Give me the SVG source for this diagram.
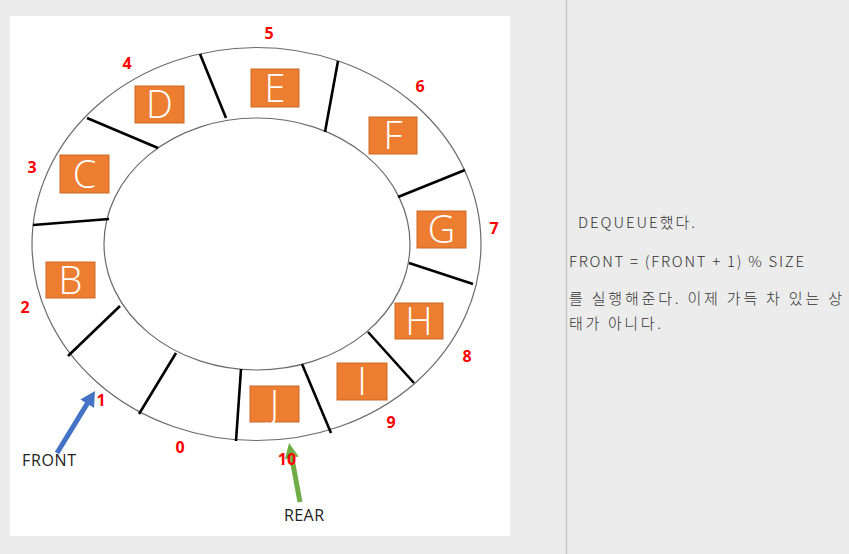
<svg xmlns="http://www.w3.org/2000/svg" width="849" height="554" viewBox="0 0 849 554">
<style>
.ring{fill:none;stroke:#6b6b6b;stroke-width:1.2}
.div{stroke:#000;stroke-width:2.6;stroke-linecap:butt}
.box{fill:#ED7D31;stroke:#C96A2A;stroke-width:1}
.let{font-family:"Open Sans","Noto Sans",sans-serif;font-weight:300;font-size:38px;fill:#fff;text-anchor:middle}
.num{font-family:"Open Sans","Liberation Sans",sans-serif;font-weight:bold;font-size:16px;fill:#ff0000;text-anchor:middle}
.lab{font-family:"Open Sans","Liberation Sans",sans-serif;font-size:16px;fill:#222}
.side{font-family:"Noto Sans CJK KR","Noto Sans",sans-serif;font-weight:300;font-size:15px;fill:#333}
</style>
<defs>
<marker id="hb" viewBox="0 -8 15 16" refX="1" refY="0" markerWidth="15" markerHeight="16" markerUnits="userSpaceOnUse" orient="auto"><path d="M0,-8 L15,0 L0,8 z" fill="#4472C4"/></marker>
<marker id="hg" viewBox="0 -7 15 14" refX="1" refY="0" markerWidth="15" markerHeight="14" markerUnits="userSpaceOnUse" orient="auto"><path d="M0,-7 L15,0 L0,7 z" fill="#70AD47"/></marker>
</defs>
<rect x="0" y="0" width="849" height="554" fill="#ececec"/>
<rect x="10" y="16" width="500" height="520" fill="#fff"/>
<line x1="566.5" y1="0" x2="566.5" y2="554" stroke="#c8c8c8" stroke-width="1.5"/>
<g id="ring">
<ellipse class="ring" cx="256.5" cy="244" rx="224.5" ry="196.5"/>
<ellipse class="ring" cx="257" cy="244" rx="153" ry="126"/>
</g>
<g id="dividers">
<line class="div" x1="200" y1="54" x2="226" y2="118"/>
<line class="div" x1="338" y1="61" x2="325" y2="132"/>
<line class="div" x1="465" y1="170" x2="398" y2="197"/>
<line class="div" x1="409" y1="263" x2="473" y2="284"/>
<line class="div" x1="368" y1="332" x2="414" y2="383"/>
<line class="div" x1="302" y1="364" x2="331" y2="433"/>
<line class="div" x1="241" y1="369" x2="236" y2="441"/>
<line class="div" x1="176" y1="353" x2="139" y2="414"/>
<line class="div" x1="120" y1="306" x2="68" y2="356"/>
<line class="div" x1="33" y1="225" x2="109" y2="219"/>
<line class="div" x1="87" y1="118" x2="158" y2="148"/>
</g>
<g id="node-B"><rect class="box" x="46" y="262" width="49" height="36"/><text class="let" x="70.5" y="293.5">B</text></g>
<g id="node-C"><rect class="box" x="60" y="155" width="49" height="38"/><text class="let" x="84.5" y="187.5">C</text></g>
<g id="node-D"><rect class="box" x="135" y="86" width="49" height="37"/><text class="let" x="159.5" y="118">D</text></g>
<g id="node-E"><rect class="box" x="251" y="69" width="48" height="38"/><text class="let" x="275" y="101.5">E</text></g>
<g id="node-F"><rect class="box" x="369" y="117" width="48" height="37"/><text class="let" x="393" y="149">F</text></g>
<g id="node-G"><rect class="box" x="417" y="211" width="49" height="37"/><text class="let" x="441.5" y="243">G</text></g>
<g id="node-H"><rect class="box" x="395" y="303" width="48" height="36"/><text class="let" x="419" y="334.5">H</text></g>
<g id="node-I"><rect class="box" x="337" y="363" width="50" height="37"/><text class="let" x="362" y="395">I</text></g>
<g id="node-J"><rect class="box" x="250" y="386" width="49" height="36"/><text class="let" x="274.5" y="417.5">J</text></g>
<g id="connectors">
<line x1="57" y1="453" x2="87.7" y2="402.9" stroke="#4472C4" stroke-width="5" marker-end="url(#hb)"/>
<line x1="300" y1="502" x2="291.6" y2="456.8" stroke="#70AD47" stroke-width="5" marker-end="url(#hg)"/>
</g>
<g id="indices">
<text class="num" x="180" y="452.5">0</text>
<text class="num" x="101" y="405.5">1</text>
<text class="num" x="25" y="312.5">2</text>
<text class="num" x="32" y="172.5">3</text>
<text class="num" x="127" y="68.5">4</text>
<text class="num" x="269" y="38.5">5</text>
<text class="num" x="420" y="91.5">6</text>
<text class="num" x="494" y="233.5">7</text>
<text class="num" x="467" y="361.5">8</text>
<text class="num" x="391" y="427.5">9</text>
<text class="num" x="287" y="464.5">10</text>
</g>
<g id="label-front"><text class="lab" x="22" y="466" textLength="54">FRONT</text></g>
<g id="label-rear"><text class="lab" x="284" y="521" textLength="40">REAR</text></g>
<g id="side-text">
<text class="side" x="578" y="228" textLength="117">DEQUEUE했다.</text>
<text class="side" x="569" y="267" textLength="235">FRONT = (FRONT + 1) % SIZE</text>
<text class="side" x="569" y="304" textLength="273">를 실행해준다. 이제 가득 차 있는 상</text>
<text class="side" x="569" y="329" textLength="92">태가 아니다.</text>
</g>
</svg>
